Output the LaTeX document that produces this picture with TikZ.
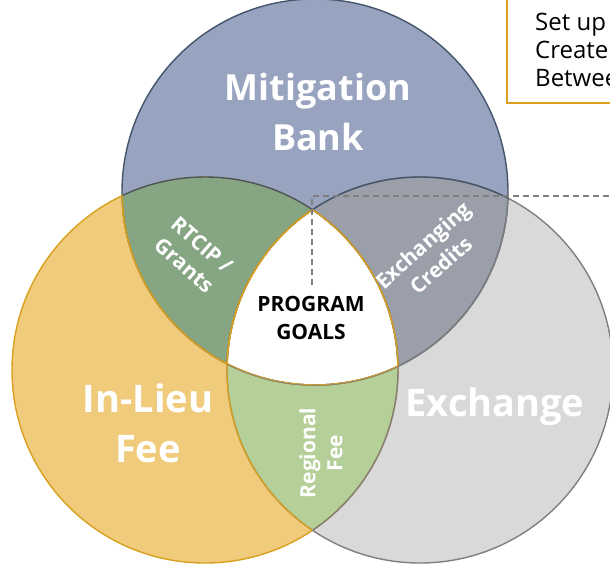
\documentclass[tikz,border=0pt]{standalone}
\usepackage{fontspec}
\setmainfont{Open Sans}
\definecolor{bankfill}{HTML}{97A3BF}
\definecolor{bankline}{HTML}{44546A}
\definecolor{feefill}{HTML}{F1CB7C}
\definecolor{feeline}{HTML}{D9A01E}
\definecolor{exfill}{HTML}{D9D9D9}
\definecolor{exline}{HTML}{7F7F7F}
\definecolor{grantfill}{HTML}{86A583}
\definecolor{creditfill}{HTML}{9B9FA9}
\definecolor{regfill}{HTML}{B4CF98}
\tikzset{
  bigtext/.style={white, align=center, font=\fontsize{38}{50}\selectfont\bfseries},
  lenstext/.style={white, align=center, font=\fontsize{21}{27}\selectfont\bfseries},
  notetext/.style={anchor=base west, inner sep=0pt, font=\fontsize{24}{28}\selectfont},
}
\begin{document}
\begin{tikzpicture}[x=1pt,y=-1pt]
  \useasboundingbox (0,0) rectangle (610,563);
  \coordinate (T) at (315,192);
  \coordinate (L) at (205,370);
  \coordinate (R) at (420,370);
  \def\rad{193pt}
  % circles
  \fill[bankfill] (T) circle (\rad);
  \fill[feefill] (L) circle (\rad);
  \fill[exfill] (R) circle (\rad);
  % overlaps
  \begin{scope}
    \clip (T) circle (\rad);
    \fill[grantfill] (L) circle (\rad);
    \fill[creditfill] (R) circle (\rad);
  \end{scope}
  \begin{scope}
    \clip (L) circle (\rad);
    \fill[regfill] (R) circle (\rad);
  \end{scope}
  \begin{scope}
    \clip (T) circle (\rad);
    \clip (L) circle (\rad);
    \fill[white] (R) circle (\rad);
  \end{scope}
  % outlines
  \draw[exline, line width=1.4pt] (R) circle (\rad);
  \draw[bankline, line width=1.4pt] (T) circle (\rad);
  \draw[feeline, line width=1.4pt] (L) circle (\rad);
  \begin{scope}
    \clip (T) circle (\rad);
    \draw[bankline, line width=1.4pt] (L) circle (\rad) (R) circle (\rad);
  \end{scope}
  \begin{scope}
    \clip (L) circle (\rad);
    \draw[feeline, line width=1.4pt] (T) circle (\rad) (R) circle (\rad);
  \end{scope}
  \begin{scope}
    \clip (R) circle (\rad);
    \draw[exline, line width=1.4pt] (T) circle (\rad) (L) circle (\rad);
  \end{scope}
  \begin{scope}
    \clip (T) circle (\rad);
    \clip (L) circle (\rad);
    \draw[feeline, line width=1.4pt] (R) circle (\rad) (T) circle (\rad);
  \end{scope}
  \begin{scope}
    \clip (T) circle (\rad);
    \clip (R) circle (\rad);
    \draw[feeline, line width=1.4pt] (L) circle (\rad);
  \end{scope}
  % dashed link to the note
  \coordinate (dashfoot) at (312,285);
  \coordinate (dashcorner) at (312,196);
  \coordinate (dashend) at (612,196);
  \draw[exline, line width=1.3pt, dash pattern=on 6pt off 4pt] (dashfoot) -- (dashcorner) -- (dashend);
  % note box
  \draw[feeline, line width=1.3pt] (507,-5) rectangle (640,103);
  \node[notetext] (note1) at (535,30) {Set up};
  \node[notetext] (note2) at (535,58) {Create};
  \node[notetext] (note3) at (535,86) {Between};
  % labels
  \node[bigtext, font=\fontsize{36}{50}\selectfont\bfseries] (bank) at (318,112) {Mitigation\\Bank};
  \node[bigtext] (fee) at (148,423) {In-Lieu\\Fee};
  \node[bigtext] (exchange) at (495,407) {Exchange};
  \node[align=center, font=\fontsize{21}{28}\selectfont\bfseries] (goals) at (311,318) {PROGRAM\\GOALS};
  \node[lenstext, rotate=-41] (grants) at (193,255) {RTCIP /\\Grants};
  \node[lenstext, rotate=42] (credits) at (432,255) {Exchanging\\Credits};
  \node[lenstext, rotate=90] (regional) at (321,453) {Regional\\Fee};
\end{tikzpicture}
\end{document}
